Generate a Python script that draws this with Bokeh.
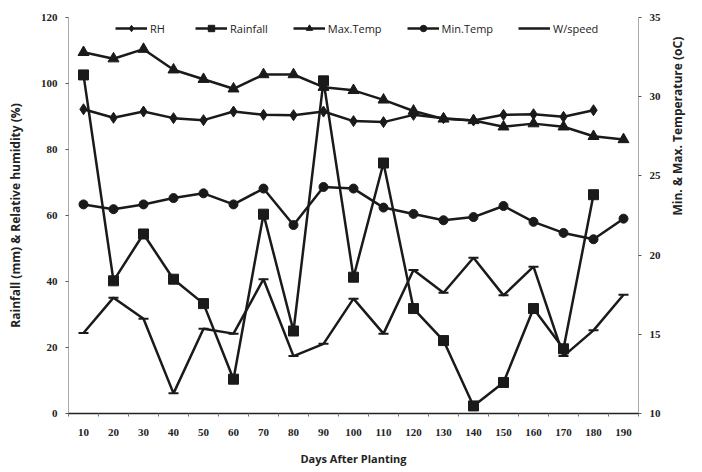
import math
from bokeh.plotting import figure
from bokeh.models import Range1d, LinearAxis, FixedTicker, Legend, LegendItem
from bokeh.embed import file_html
from bokeh.resources import INLINE

days = [10, 20, 30, 40, 50, 60, 70, 80, 90, 100, 110, 120, 130, 140, 150, 160, 170, 180, 190]
rh = [92.2, 89.6, 91.5, 89.5, 88.9, 91.5, 90.5, 90.4, 91.5, 88.6, 88.3, 90.5, 89.5, 88.8, 90.5, 90.7, 89.9, 91.9]
rh_days = days[:18]
rainfall = [102.6, 40.2, 54.4, 40.7, 33.3, 10.4, 60.4, 25.0, 100.8, 41.3, 75.9, 31.8, 22.1, 2.3, 9.4, 31.8, 19.6, 66.3]
rain_days = days[:18]
max_temp = [32.8, 32.4, 33.0, 31.7, 31.1, 30.5, 31.4, 31.4, 30.6, 30.4, 29.8, 29.1, 28.6, 28.5, 28.1, 28.3, 28.1, 27.5, 27.3]
min_temp = [23.2, 22.9, 23.2, 23.6, 23.9, 23.2, 24.2, 21.9, 24.3, 24.2, 23.0, 22.6, 22.2, 22.4, 23.1, 22.1, 21.4, 21.0, 22.3]
wspeed = [24.4, 35.1, 28.7, 6.1, 25.7, 24.2, 40.7, 17.4, 21.1, 34.8, 24.2, 43.5, 36.6, 47.2, 35.8, 44.5, 17.4, 25.2, 36.0]

left_ticks = [0, 20, 40, 60, 80, 100, 120]
right_ticks = [10, 15, 20, 25, 30, 35]
minor_x = [5 + 10 * i for i in range(20)]

INK = "#1a1a1a"
TXT = "#222222"

p = figure(width=702, height=472, output_backend="svg", toolbar_location=None,
           x_range=Range1d(5, 195), y_range=Range1d(0, 120),
           min_border_left=68, min_border_right=64, min_border_top=17, min_border_bottom=59)
p.extra_y_ranges = {"temp": Range1d(10, 35)}
p.outline_line_color = None
p.xgrid.visible = False
p.ygrid.visible = False
p.background_fill_color = "white"
p.border_fill_color = "white"

ya = p.yaxis[0]
ya.ticker = FixedTicker(ticks=left_ticks)
ya.axis_label = "Rainfall (mm) & Relative humidity (%)"
xa = p.xaxis[0]
xa.ticker = FixedTicker(ticks=days, minor_ticks=minor_x)
xa.axis_label = "Days After Planting"

ra = LinearAxis(y_range_name="temp", ticker=FixedTicker(ticks=right_ticks),
                axis_label="Min. & Max. Temperature (oC)")
p.add_layout(ra, "right")

for ax in (ya, xa, ra):
    ax.major_label_text_font = "Liberation Serif"
    ax.major_label_text_font_size = "11px"
    ax.major_label_text_font_style = "bold"
    ax.major_label_text_color = TXT
    ax.axis_label_text_font = "Open Sans"
    ax.axis_label_text_font_style = "bold"
    ax.axis_label_text_color = TXT
    ax.minor_tick_line_color = None
    ax.major_tick_in = 0
    ax.major_tick_out = 3
    ax.major_tick_line_color = "#555555"
for ax in (ya, ra):
    ax.axis_line_color = "#555555"
    ax.axis_line_dash = "1 1"
    ax.axis_label_text_font_size = "12px"
    ax.major_label_standoff = 8
    ax.axis_label_standoff = 14
ra.axis_label_orientation = math.pi / 2
xa.axis_line_color = "#222222"
xa.axis_line_width = 1.5
xa.major_tick_out = 0
xa.minor_tick_line_color = "#777777"
xa.minor_tick_out = 3
xa.minor_tick_in = 0
xa.major_label_standoff = 12
xa.axis_label_standoff = 12
xa.axis_label_text_font_size = "11px"

lw = 2.5
r_rh_l = p.line(rh_days, rh, line_color=INK, line_width=lw)
r_rh_m = p.scatter(rh_days, rh, marker="diamond", size=11, color=INK)
r_rf_l = p.line(rain_days, rainfall, line_color=INK, line_width=lw)
r_rf_m = p.scatter(rain_days, rainfall, marker="square", size=10, color=INK)
r_mx_l = p.line(days, max_temp, line_color=INK, line_width=lw, y_range_name="temp")
r_mx_m = p.scatter(days, max_temp, marker="triangle", size=11, color=INK, y_range_name="temp")
r_mn_l = p.line(days, min_temp, line_color=INK, line_width=lw, y_range_name="temp")
r_mn_m = p.scatter(days, min_temp, marker="circle", size=9, color=INK, y_range_name="temp")
r_ws_l = p.line(days, wspeed, line_color=INK, line_width=lw)
r_ws_m = p.scatter(days, wspeed, marker="dash", size=10, line_width=2, color=INK)

legend = Legend(items=[
    LegendItem(label="RH", renderers=[r_rh_l, r_rh_m]),
    LegendItem(label="Rainfall", renderers=[r_rf_l, r_rf_m]),
    LegendItem(label="Max.Temp", renderers=[r_mx_l, r_mx_m]),
    LegendItem(label="Min.Temp", renderers=[r_mn_l, r_mn_m]),
    LegendItem(label="W/speed", renderers=[r_ws_l]),
], orientation="horizontal", location=(47, 377))
legend.padding = 0
legend.margin = 0
legend.spacing = 25
legend.glyph_width = 32
legend.glyph_height = 16
legend.label_height = 16
legend.label_standoff = 3
legend.label_text_font = "Open Sans"
legend.label_text_font_size = "11px"
legend.label_text_color = TXT
legend.border_line_color = None
legend.background_fill_alpha = 0
p.add_layout(legend, "center")

open("out.html", "w").write(file_html(p, INLINE))
